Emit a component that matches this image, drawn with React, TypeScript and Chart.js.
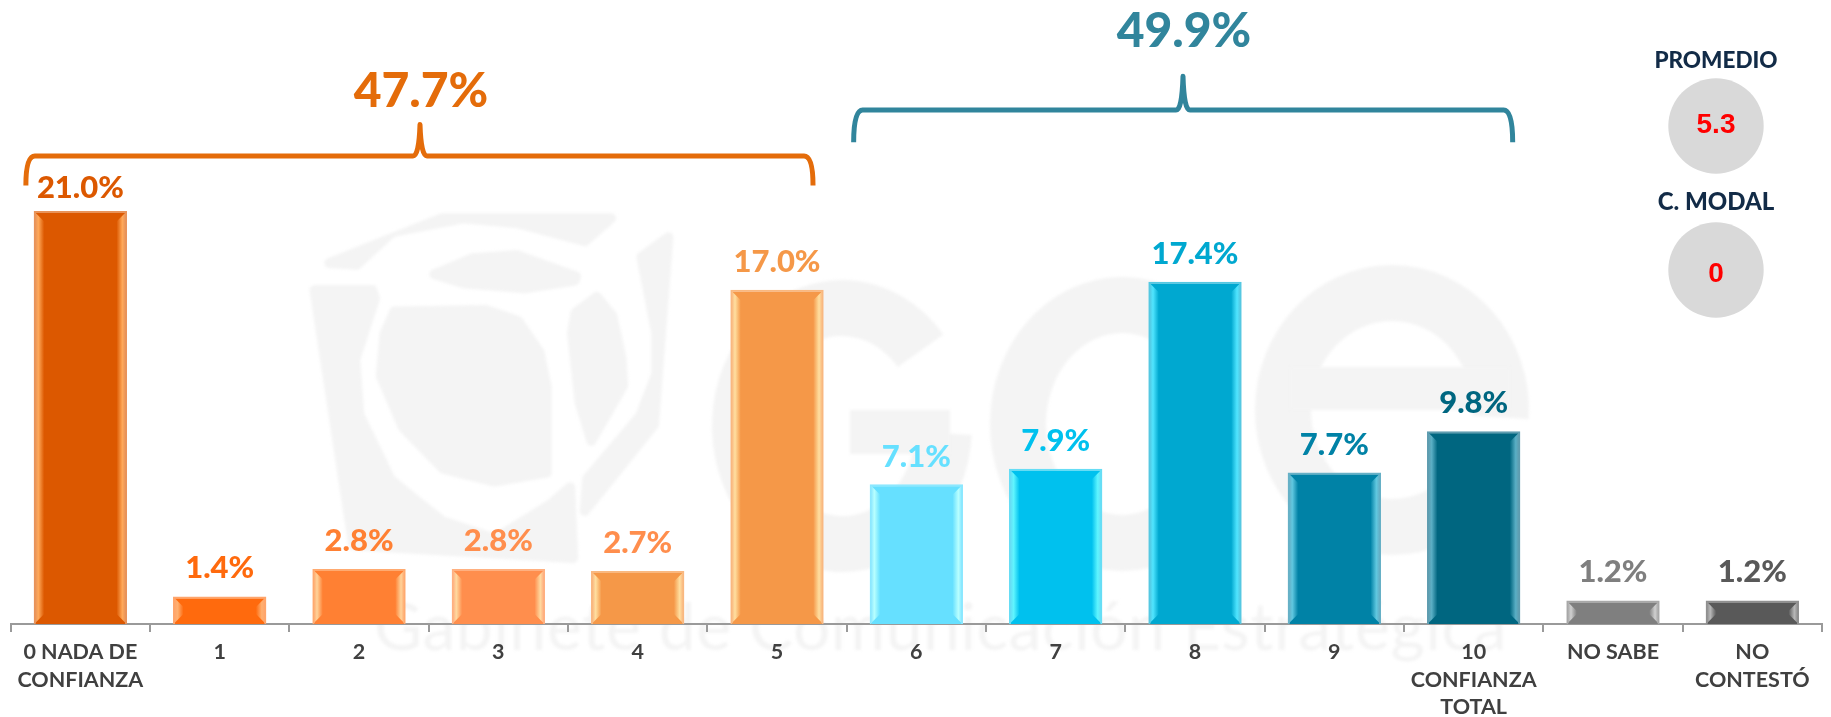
import React, { useEffect, useRef } from "react";
import { Chart, registerables } from "chart.js";

Chart.register(...registerables);

const categories: (string | string[])[] = [
  ["0 NADA DE", "CONFIANZA"], "1", "2", "3", "4", "5", "6", "7", "8", "9",
  ["10", "CONFIANZA", "TOTAL"], "NO SABE", ["NO", "CONTESTÓ"],
];
const values = [21.0, 1.4, 2.8, 2.8, 2.7, 17.0, 7.1, 7.9, 17.4, 7.7, 9.8, 1.2, 1.2];
const barColors = ["#DC5800", "#FF6A0D", "#FF8033", "#FF8E4D", "#F59848", "#F59848", "#66E0FF", "#00C1EE", "#00A8D0", "#0082A6", "#006680", "#7F7F7F", "#595959"];
const edgeColors = ["#E8935A", "#FFA56B", "#FFAA70", "#FFB080", "#F9B880", "#F9B880", "#8CE8FF", "#66DDF5", "#55C8E2", "#66B0C6", "#5F9DB0", "#A8A8A8", "#909090"];
const glowColors = ["#FFA95A", "#FFB070", "#FFD39A", "#FFD9A0", "#FFDFA0", "#FFDFA0", "#B8FFFF", "#5FF5FF", "#50E5FF", "#60C8E0", "#5AAFC5", "#D0D0D0", "#B8B8B8"];
const labelColors = ["#DC5800", "#FF6A0D", "#FF8033", "#FF8E4D", "#FF8E4D", "#F59848", "#66E0FF", "#00C1EE", "#00A8D0", "#0082A6", "#006680", "#7F7F7F", "#595959"];
const labelLift = [13, 18, 18, 18, 18, 18, 17, 18, 18, 18, 18, 18, 18];

const groupLabels = ["47.7%", "49.9%"];
const groupColors = ["#E46C0A", "#31859C"];
const groupFrom = [0, 6];
const groupTo = [5, 10];
const groupLevels = [23.8, 26.13];
const groupPeaks = [25.4, 27.85];
const groupEnds = [22.3, 24.5];
const groupCenters = [420, 1183];
const groupLeftPad = [54.5, 62.7];
const groupRightPad = [36, 39];
const groupTextY = [107, 47];

const statNames = ["PROMEDIO", "C. MODAL"];
const statValues = ["5.3", "0"];

const FONT = "Lato, 'Noto Sans', sans-serif";

const watermark = {
  id: "watermark",
  beforeDraw(chart: any) {
    const c = chart.ctx;
    const shade = "#F4F4F4";
    c.save();
    c.fillStyle = "#FFFFFF";
    c.fillRect(0, 0, chart.width, chart.height);
    c.fillStyle = shade;
    c.strokeStyle = shade;
    const poly = (pts: number[][]) => {
      const mapped = pts.map((p) => [280 + p[0] / 2.613, 200 + p[1] / 3]);
      const n = mapped.length;
      c.beginPath();
      const first = [(mapped[n - 1][0] + mapped[0][0]) / 2, (mapped[n - 1][1] + mapped[0][1]) / 2];
      c.moveTo(first[0], first[1]);
      mapped.forEach((p, i) => {
        const q = mapped[(i + 1) % n];
        c.arcTo(p[0], p[1], (p[0] + q[0]) / 2, (p[1] + q[1]) / 2, 5);
        c.lineTo((p[0] + q[0]) / 2, (p[1] + q[1]) / 2);
      });
      c.closePath();
      c.fill();
    };
    c.filter = "blur(1.5px)";
    poly([[70, 200], [420, 40], [900, 40], [800, 140], [620, 85], [480, 70], [300, 110], [205, 210]]);
    poly([[365, 225], [500, 160], [620, 150], [790, 220], [780, 255], [640, 280], [480, 265]]);
    poly([[75, 255], [250, 255], [262, 295], [210, 480], [220, 640], [300, 830], [430, 950], [560, 1000], [700, 900], [770, 830], [780, 1090], [180, 1050]]);
    poly([[290, 320], [540, 315], [630, 350], [690, 450], [710, 560], [710, 830], [560, 860], [420, 820], [310, 690], [250, 530], [260, 400]]);
    poly([[830, 270], [880, 340], [905, 470], [910, 560], [810, 760], [770, 610], [750, 400], [760, 330]]);
    poly([[1030, 80], [930, 165], [970, 400], [970, 520], [930, 640], [790, 830], [780, 980], [990, 680]]);

    c.lineWidth = 56;
    c.lineCap = "butt";
    const arc = (cx: number, cy: number, rx: number, ry: number, a: number, b: number) => {
      c.beginPath();
      c.ellipse(cx, cy, rx, ry, 0, a, b);
      c.stroke();
    };
    arc(842, 426, 102, 118, Math.PI * 0.02, Math.PI * 1.78);
    c.fillRect(850, 410, 100, 44);
    arc(1122, 424, 104, 119, Math.PI * 0.25, Math.PI * 1.75);
    arc(1392, 410, 109, 117, Math.PI * 0.25, Math.PI * 2.02);
    c.fillRect(1290, 367, 220, 43);

    c.font = `400 66px ${FONT}`;
    (c as any).letterSpacing = "0.5px";
    c.textAlign = "left";
    c.textBaseline = "alphabetic";
    c.fillText("Gabinete de Comunicación Estratégica", 374, 650);
    c.restore();
  },
};

const bevels = {
  id: "bevels",
  afterDatasetsDraw(chart: any) {
    const c = chart.ctx;
    const meta = chart.getDatasetMeta(0);
    meta.data.forEach((bar: any, i: number) => {
      const half = bar.width / 2;
      const l = bar.x - half + 1.5;
      const r = bar.x + half - 1.5;
      const t = bar.y + 1.5;
      const b = bar.base - 1;
      const inset = Math.min(9, (b - t) / 2);
      const side = (edge: number, dir: number) => {
        const g = c.createLinearGradient(edge, 0, edge + dir * 9, 0);
        g.addColorStop(0, edgeColors[i]);
        g.addColorStop(0.35, glowColors[i]);
        g.addColorStop(1, barColors[i]);
        c.fillStyle = g;
        c.beginPath();
        c.moveTo(edge, t);
        c.lineTo(edge + dir * 9, t + inset);
        c.lineTo(edge + dir * 9, b - inset);
        c.lineTo(edge, b);
        c.closePath();
        c.fill();
      };
      c.save();
      side(l, 1);
      side(r, -1);
      c.restore();
    });
  },
};

const overlay = {
  id: "overlay",
  afterDraw(chart: any) {
    const c = chart.ctx;
    const xs = chart.scales.x;
    const ys = chart.scales.y;
    const meta = chart.getDatasetMeta(0);
    c.save();
    c.textAlign = "center";
    c.textBaseline = "alphabetic";

    c.font = `900 31px ${FONT}`;
    values.forEach((v, i) => {
      c.fillStyle = labelColors[i];
      c.fillText(`${v.toFixed(1)}%`, meta.data[i].x, meta.data[i].y - labelLift[i]);
    });

    groupLabels.forEach((label, i) => {
      const left = xs.getPixelForValue(groupFrom[i]) - groupLeftPad[i];
      const right = xs.getPixelForValue(groupTo[i]) + groupRightPad[i];
      const y = ys.getPixelForValue(groupLevels[i]);
      const end = ys.getPixelForValue(groupEnds[i]);
      const peak = ys.getPixelForValue(groupPeaks[i]);
      const mid = groupCenters[i];
      c.strokeStyle = groupColors[i];
      c.fillStyle = groupColors[i];
      c.lineWidth = 5;
      c.lineCap = "butt";
      c.lineJoin = "round";
      c.beginPath();
      c.moveTo(left, end);
      c.quadraticCurveTo(left, y, left + 9, y);
      c.lineTo(mid - 7, y);
      c.quadraticCurveTo(mid - 1, y, mid, peak);
      c.quadraticCurveTo(mid + 1, y, mid + 7, y);
      c.lineTo(right - 9, y);
      c.quadraticCurveTo(right, y, right, end);
      c.stroke();
      c.font = `900 48px ${FONT}`;
      c.fillText(label, mid + 1, groupTextY[i]);
    });

    const cx = 1716;
    [126, 270].forEach((cy, i) => {
      c.fillStyle = "#D9D9D9";
      c.beginPath();
      c.arc(cx, cy, 47.7, 0, Math.PI * 2);
      c.fill();
      c.fillStyle = "#FF0000";
      c.font = "700 28px 'Liberation Sans', Arial, sans-serif";
      c.fillText(statValues[i], cx, cy + (i === 0 ? 7 : 12));
      c.fillStyle = "#122B47";
      c.font = `900 ${i === 0 ? 22.5 : 24}px ${FONT}`;
      c.fillText(statNames[i], cx, i === 0 ? 68 : 210);
    });
    c.restore();
  },
};

export default function App() {
  const ref = useRef<HTMLCanvasElement>(null);
  useEffect(() => {
    const chart = new Chart(ref.current!, {
      type: "bar",
      data: {
        labels: categories as any,
        datasets: [{
          data: values,
          backgroundColor: barColors,
          borderColor: edgeColors,
          borderWidth: 2,
          categoryPercentage: 1,
          barPercentage: 0.67,
        }],
      },
      options: {
        responsive: false,
        animation: false,
        devicePixelRatio: 1,
        layout: { padding: { left: 10.7, right: 9, top: 34, bottom: 0 } },
        plugins: { legend: { display: false }, tooltip: { enabled: false }, title: { display: false } },
        scales: {
          x: {
            afterFit: (s: any) => { s.height = 93; },
            grid: { drawOnChartArea: false, drawTicks: true, tickLength: 8, color: "#9A9A9A", lineWidth: 2 },
            border: { color: "#9A9A9A", width: 2 },
            ticks: {
              autoSkip: false, maxRotation: 0, minRotation: 0, padding: 6, color: "#404040",
              font: { family: FONT, weight: "bold", size: 21.5, lineHeight: 1.29 },
            },
          },
          y: { display: false, min: 0, max: 30 },
        },
      } as any,
      plugins: [watermark, bevels, overlay],
    });
    return () => chart.destroy();
  }, []);
  return (
    <div style={{ position: "fixed", left: 0, top: 0, width: 1831, height: 717, background: "#fff" }}>
      <canvas ref={ref} width={1831} height={717} style={{ display: "block" }} />
    </div>
  );
}
